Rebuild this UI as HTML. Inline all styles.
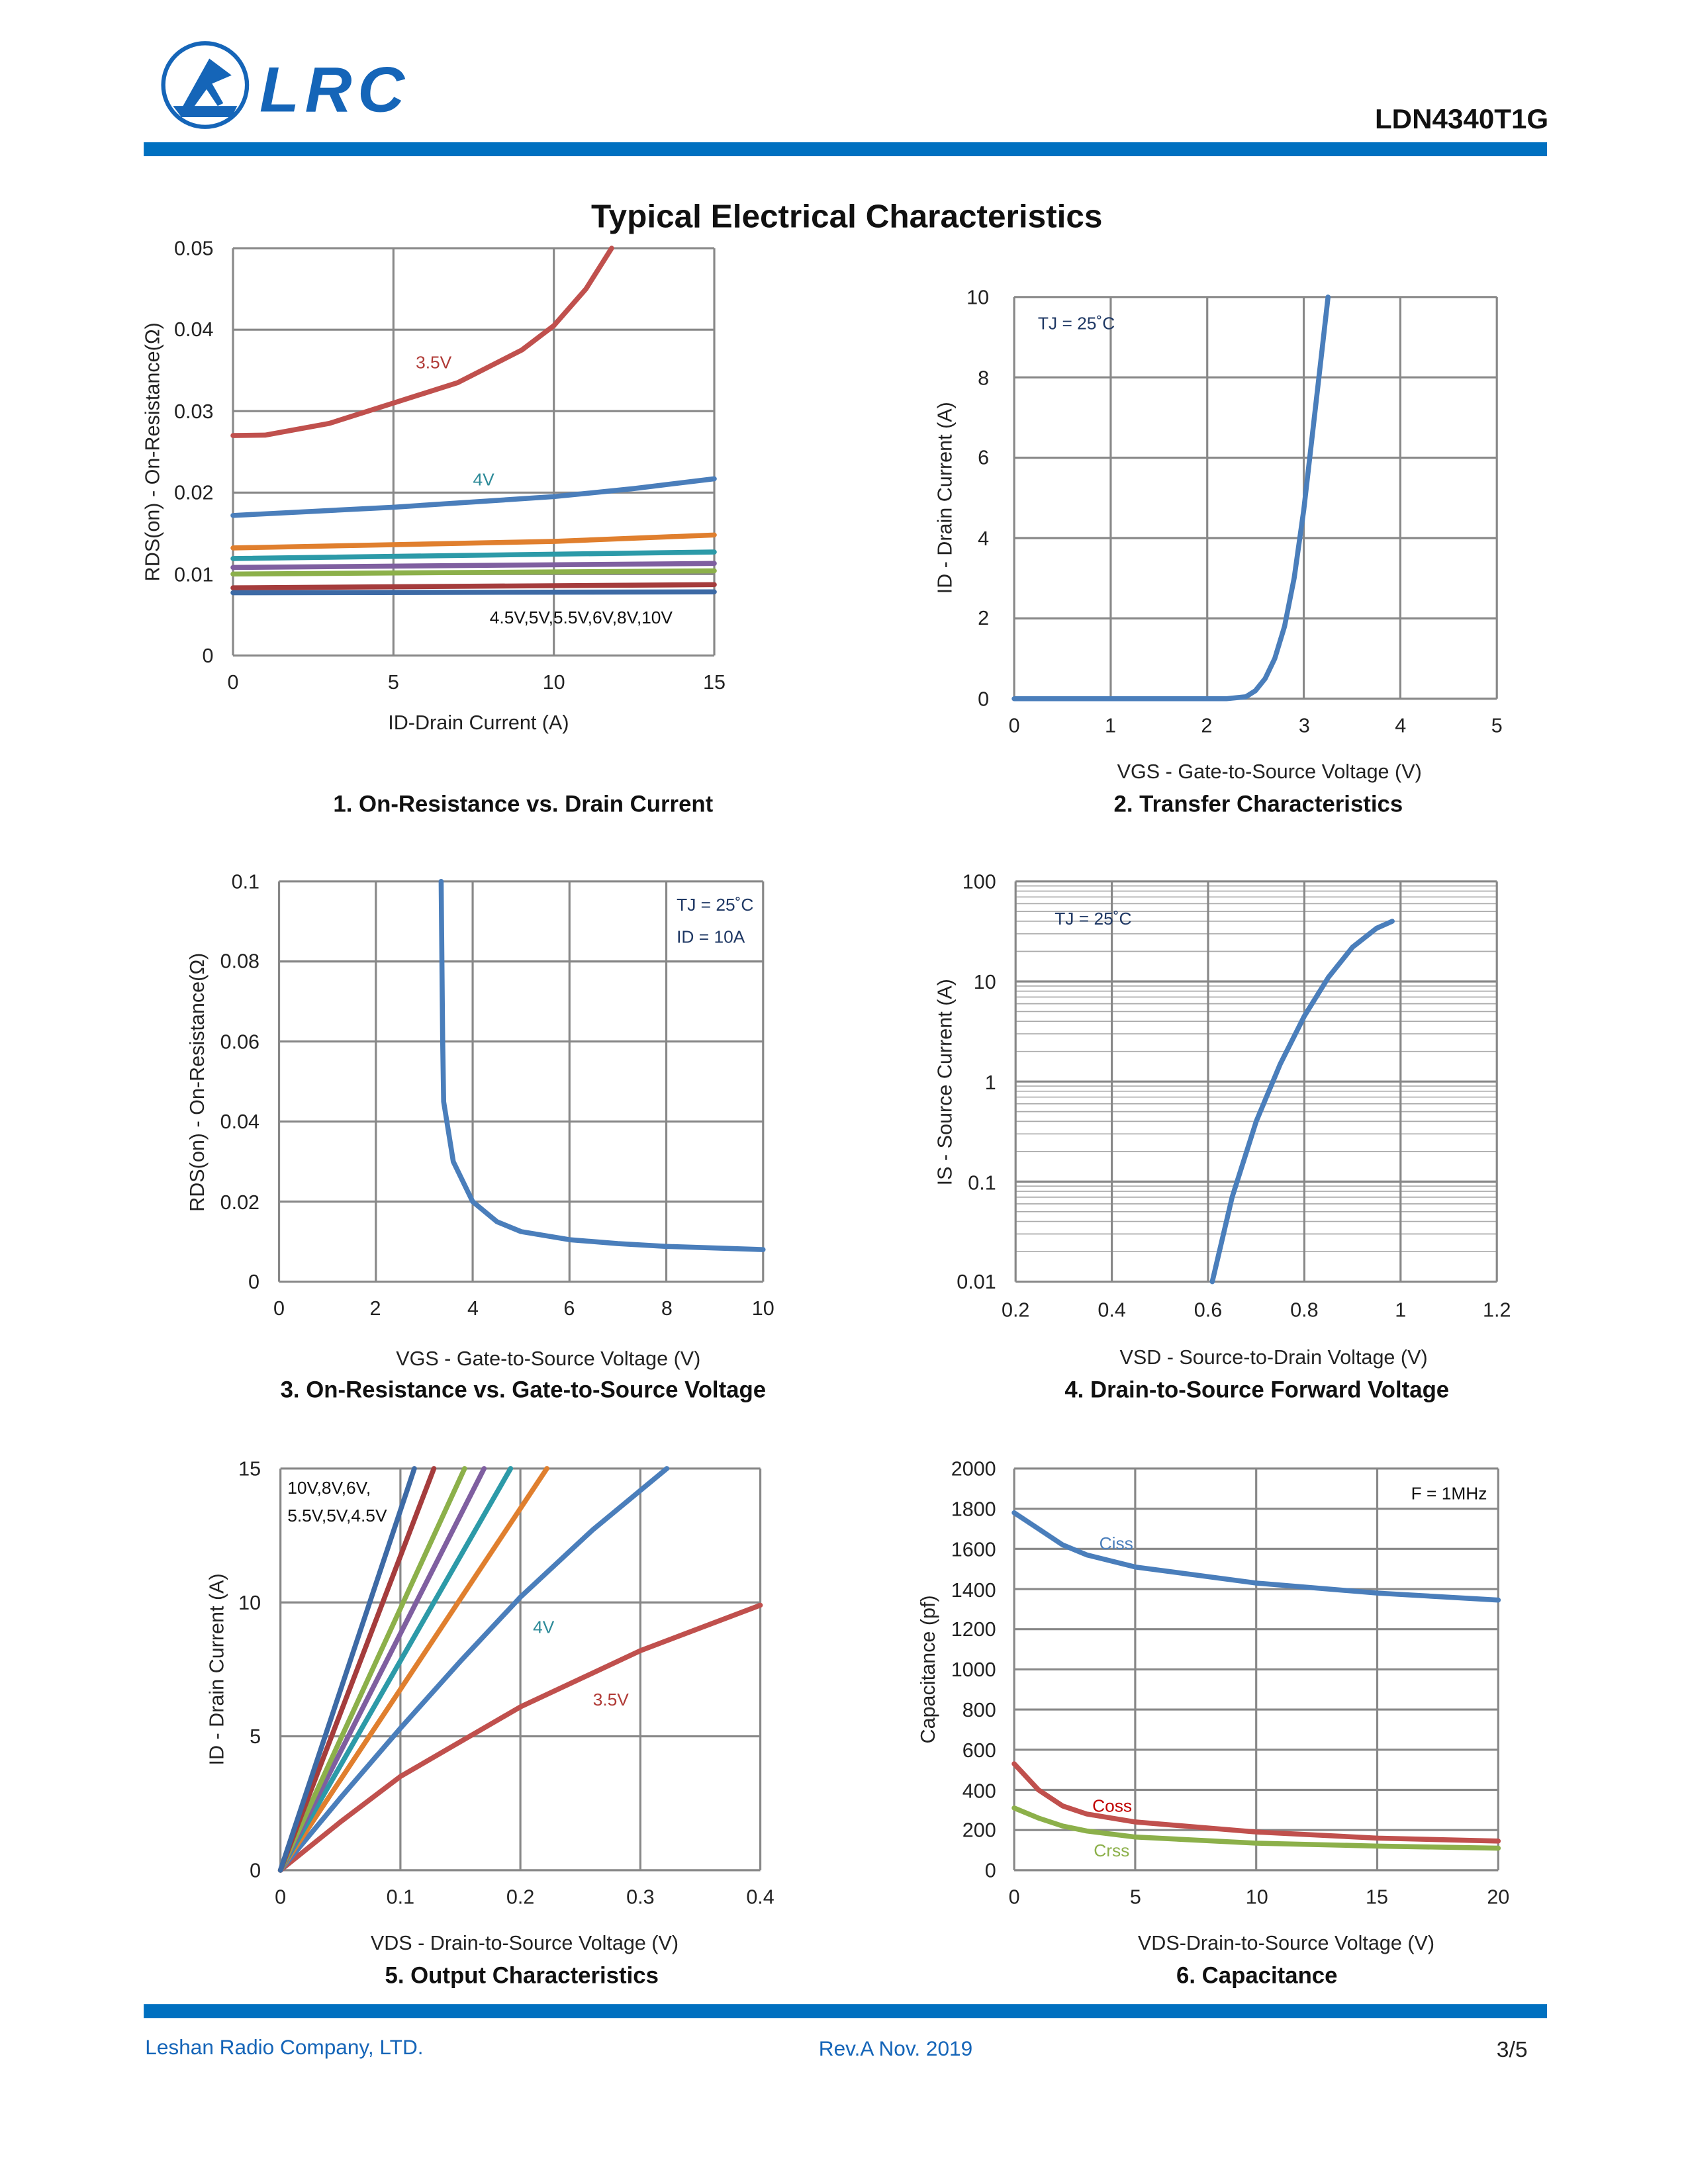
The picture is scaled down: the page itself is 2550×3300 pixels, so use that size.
<!DOCTYPE html>
<html><head><meta charset="utf-8"><style>
html,body{margin:0;padding:0;background:#fff}
svg{display:block}
text{font-family:"Liberation Sans",sans-serif}
.t{font-size:14.5px;fill:#222}
.c{font-size:16.5px;font-weight:bold;fill:#111}
.g{stroke:#888;stroke-width:1.5;fill:none}
.gm{stroke:#aaa;stroke-width:0.8;fill:none}
.s{fill:none;stroke-width:3.6;stroke-linejoin:round;stroke-linecap:round}
.a{font-size:12.5px}
</style></head><body>
<svg width="2550" height="3300" viewBox="0 0 1210 1566" xmlns="http://www.w3.org/2000/svg">
<!-- header -->
<circle cx="147" cy="61" r="30" fill="none" stroke="#1565b8" stroke-width="3"/>
<path d="M130 78 L150 42 L166 54 L152 60 L160 74 L156 76 L148 64 L138 78 Z M124 76 L170 76 L166 84 L130 84 Z" fill="#1565b8"/>
<text x="186" y="80" font-size="46" font-weight="bold" font-style="italic" fill="#1565b8" letter-spacing="4" textLength="108" lengthAdjust="spacingAndGlyphs">LRC</text>
<text x="1110" y="92" font-size="20" font-weight="bold" text-anchor="end" fill="#111">LDN4340T1G</text>
<rect x="103" y="102" width="1006" height="10" fill="#0070C0"/>
<text x="607" y="163" font-size="23.5" font-weight="bold" text-anchor="middle" fill="#111">Typical Electrical Characteristics</text>

<!-- Chart 1 -->
<g class="g">
<path d="M167 178H512M167 236.4H512M167 294.8H512M167 353.2H512M167 411.6H512M167 470H512M167 178V470M282 178V470M397 178V470M512 178V470"/>
</g>
<g class="t" text-anchor="end">
<text x="153" y="183">0.05</text><text x="153" y="241">0.04</text><text x="153" y="300">0.03</text><text x="153" y="358">0.02</text><text x="153" y="417">0.01</text><text x="153" y="475">0</text>
</g>
<g class="t" text-anchor="middle">
<text x="167" y="494">0</text><text x="282" y="494">5</text><text x="397" y="494">10</text><text x="512" y="494">15</text>
<text x="343" y="523">ID-Drain Current (A)</text>
<text transform="translate(114,324) rotate(-90)">RDS(on) - On-Resistance(Ω)</text>
</g>
<polyline class="s" stroke="#C0504D" points="167,312.3 190,312 236,303.6 282,289 328,274.4 374,251 397,233.5 420,207.2 438.4,178"/>
<polyline class="s" stroke="#4A7EBB" points="167,369.6 282,363.7 397,356.1 454.5,350.3 512,343.3"/>
<polyline class="s" stroke="#E07F2E" points="167,392.9 397,388.2 512,383.6"/>
<polyline class="s" stroke="#2C9AA8" points="167,400.5 512,395.8"/>
<polyline class="s" stroke="#7F5FA0" points="167,406.9 512,404"/>
<polyline class="s" stroke="#8CB04A" points="167,411.6 512,409.3"/>
<polyline class="s" stroke="#A53C3C" points="167,421.5 512,419.2"/>
<polyline class="s" stroke="#3D6AA5" points="167,425 512,424.4"/>
<text class="a" x="298" y="264" fill="#B03A36">3.5V</text>
<text class="a" x="339" y="348" fill="#2C8A98">4V</text>
<text class="a" x="351" y="447" fill="#111">4.5V,5V,5.5V,6V,8V,10V</text>
<text class="c" x="375" y="582" text-anchor="middle">1. On-Resistance vs. Drain Current</text>

<!-- Chart 2 -->
<g class="g">
<path d="M727 213H1073M727 270.6H1073M727 328.2H1073M727 385.8H1073M727 443.4H1073M727 501H1073M727 213V501M796.2 213V501M865.4 213V501M934.6 213V501M1003.8 213V501M1073 213V501"/>
</g>
<g class="t" text-anchor="end">
<text x="709" y="218">10</text><text x="709" y="276">8</text><text x="709" y="333">6</text><text x="709" y="391">4</text><text x="709" y="448">2</text><text x="709" y="506">0</text>
</g>
<g class="t" text-anchor="middle">
<text x="727" y="525">0</text><text x="796" y="525">1</text><text x="865" y="525">2</text><text x="935" y="525">3</text><text x="1004" y="525">4</text><text x="1073" y="525">5</text>
<text x="910" y="558">VGS - Gate-to-Source Voltage (V)</text>
<text transform="translate(682,357) rotate(-90)">ID - Drain Current (A)</text>
</g>
<polyline class="s" stroke="#4A7EBB" points="727,501 879.2,501 893.1,499.6 900,495.2 906.9,486.6 913.8,472.2 920.8,449.2 927.7,414.6 934.6,365.6 941.5,305.2 948.4,244.7 952,213"/>
<text class="a" x="744" y="236" fill="#1F3864">TJ = 25˚C</text>
<text class="c" x="902" y="582" text-anchor="middle">2. Transfer Characteristics</text>

<!-- Chart 3 -->
<g class="g">
<path d="M200 632H547M200 689.4H547M200 746.8H547M200 804.2H547M200 861.6H547M200 919H547M200 632V919M269.4 632V919M338.8 632V919M408.2 632V919M477.6 632V919M547 632V919"/>
</g>
<g class="t" text-anchor="end">
<text x="186" y="637">0.1</text><text x="186" y="694">0.08</text><text x="186" y="752">0.06</text><text x="186" y="809">0.04</text><text x="186" y="867">0.02</text><text x="186" y="924">0</text>
</g>
<g class="t" text-anchor="middle">
<text x="200" y="943">0</text><text x="269" y="943">2</text><text x="339" y="943">4</text><text x="408" y="943">6</text><text x="478" y="943">8</text><text x="547" y="943">10</text>
<text x="393" y="979">VGS - Gate-to-Source Voltage (V)</text>
<text transform="translate(146,776) rotate(-90)">RDS(on) - On-Resistance(Ω)</text>
</g>
<polyline class="s" stroke="#4A7EBB" points="316.2,632 317.3,746.8 318,789.9 324.9,832.9 338.8,861.6 356.2,876 373.5,883.1 408.2,888.9 442.9,891.7 477.6,893.7 547,896"/>
<text class="a" x="485" y="653" fill="#1F3864">TJ = 25˚C</text>
<text class="a" x="485" y="676" fill="#1F3864">ID = 10A</text>
<text class="c" x="375" y="1002" text-anchor="middle">3. On-Resistance vs. Gate-to-Source Voltage</text>

<!-- Chart 4 -->
<g class="gm">
<path d="M728 897.4H1073M728 884.8H1073M728 875.8H1073M728 868.8H1073M728 863.2H1073M728 858.4H1073M728 854.2H1073M728 850.5H1073
M728 825.65H1073M728 813.05H1073M728 804.05H1073M728 797.05H1073M728 791.45H1073M728 786.65H1073M728 782.45H1073M728 778.75H1073
M728 753.9H1073M728 741.3H1073M728 732.3H1073M728 725.3H1073M728 719.7H1073M728 714.9H1073M728 710.7H1073M728 707H1073
M728 682.15H1073M728 669.55H1073M728 660.55H1073M728 653.55H1073M728 647.95H1073M728 643.15H1073M728 638.95H1073M728 635.25H1073"/>
</g>
<g class="g">
<path d="M728 632H1073M728 703.75H1073M728 775.5H1073M728 847.25H1073M728 919H1073M728 632V919M797 632V919M866 632V919M935 632V919M1004 632V919M1073 632V919"/>
</g>
<g class="t" text-anchor="end">
<text x="714" y="637">100</text><text x="714" y="709">10</text><text x="714" y="781">1</text><text x="714" y="853">0.1</text><text x="714" y="924">0.01</text>
</g>
<g class="t" text-anchor="middle">
<text x="728" y="944">0.2</text><text x="797" y="944">0.4</text><text x="866" y="944">0.6</text><text x="935" y="944">0.8</text><text x="1004" y="944">1</text><text x="1073" y="944">1.2</text>
<text x="913" y="978">VSD - Source-to-Drain Voltage (V)</text>
<text transform="translate(682,776) rotate(-90)">IS - Source Current (A)</text>
</g>
<polyline class="s" stroke="#4A7EBB" points="869,919 883.25,858.4 900.5,804.1 917.75,762.9 935,728.6 952.25,700.8 969.5,679.2 986.75,665.6 998,660.6"/>
<text class="a" x="756" y="663" fill="#1F3864">TJ = 25˚C</text>
<text class="c" x="901" y="1002" text-anchor="middle">4. Drain-to-Source Forward Voltage</text>

<!-- Chart 5 -->
<g class="g">
<path d="M201 1053H545M201 1149H545M201 1245H545M201 1341H545M201 1053V1341M287 1053V1341M373 1053V1341M459 1053V1341M545 1053V1341"/>
</g>
<g class="t" text-anchor="end">
<text x="187" y="1058">15</text><text x="187" y="1154">10</text><text x="187" y="1250">5</text><text x="187" y="1346">0</text>
</g>
<g class="t" text-anchor="middle">
<text x="201" y="1365">0</text><text x="287" y="1365">0.1</text><text x="373" y="1365">0.2</text><text x="459" y="1365">0.3</text><text x="545" y="1365">0.4</text>
<text x="376" y="1398">VDS - Drain-to-Source Voltage (V)</text>
<text transform="translate(160,1197) rotate(-90)">ID - Drain Current (A)</text>
</g>
<polyline class="s" stroke="#C0504D" points="201,1341 244,1306.4 287,1273.8 373,1223.9 459,1183.6 545,1151"/>
<polyline class="s" stroke="#4A7EBB" points="201,1341 244,1289.2 287,1239.2 330,1191.2 373,1145.2 424.6,1097.2 478,1053"/>
<polyline class="s" stroke="#E07F2E" points="201,1341 392,1053"/>
<polyline class="s" stroke="#2C9AA8" points="201,1341 366,1053"/>
<polyline class="s" stroke="#7F5FA0" points="201,1341 347,1053"/>
<polyline class="s" stroke="#8CB04A" points="201,1341 333,1053"/>
<polyline class="s" stroke="#A53C3C" points="201,1341 311,1053"/>
<polyline class="s" stroke="#3D6AA5" points="201,1341 297,1053"/>
<text class="a" x="206" y="1071" fill="#111">10V,8V,6V,</text>
<text class="a" x="206" y="1091" fill="#111">5.5V,5V,4.5V</text>
<text class="a" x="382" y="1171" fill="#2C8A98">4V</text>
<text class="a" x="425" y="1223" fill="#B03A36">3.5V</text>
<text class="c" x="374" y="1422" text-anchor="middle">5. Output Characteristics</text>

<!-- Chart 6 -->
<g class="g">
<path d="M727 1053H1074M727 1081.8H1074M727 1110.6H1074M727 1139.4H1074M727 1168.2H1074M727 1197H1074M727 1225.8H1074M727 1254.6H1074M727 1283.4H1074M727 1312.2H1074M727 1341H1074
M727 1053V1341M813.75 1053V1341M900.5 1053V1341M987.25 1053V1341M1074 1053V1341"/>
</g>
<g class="t" text-anchor="end">
<text x="714" y="1058">2000</text><text x="714" y="1087">1800</text><text x="714" y="1116">1600</text><text x="714" y="1145">1400</text><text x="714" y="1173">1200</text><text x="714" y="1202">1000</text><text x="714" y="1231">800</text><text x="714" y="1260">600</text><text x="714" y="1289">400</text><text x="714" y="1317">200</text><text x="714" y="1346">0</text>
</g>
<g class="t" text-anchor="middle">
<text x="727" y="1365">0</text><text x="814" y="1365">5</text><text x="901" y="1365">10</text><text x="987" y="1365">15</text><text x="1074" y="1365">20</text>
<text x="922" y="1398">VDS-Drain-to-Source Voltage (V)</text>
<text transform="translate(670,1197) rotate(-90)">Capacitance (pf)</text>
</g>
<polyline class="s" stroke="#4A7EBB" points="727,1084.7 744.4,1096.2 761.7,1107.7 779,1114.9 813.8,1123.6 900.5,1135.1 987.3,1142.3 1074,1147.3"/>
<polyline class="s" stroke="#8CB04A" points="727,1296.4 744.4,1303.6 761.7,1309.3 779,1312.9 813.8,1317.2 900.5,1321.6 987.3,1323.7 1074,1325.2"/>
<polyline class="s" stroke="#C0504D" points="727,1264.7 744.4,1283.4 761.7,1294.9 779,1300.7 813.8,1306.4 900.5,1313.6 987.3,1318 1074,1320.1"/>
<text class="a" x="788" y="1111" fill="#4A7EBB">Ciss</text>
<text class="a" x="783" y="1299" fill="#C00000">Coss</text>
<text class="a" x="784" y="1331" fill="#8CB04A">Crss</text>
<text class="a" x="1066" y="1075" fill="#111" text-anchor="end">F = 1MHz</text>
<text class="c" x="901" y="1422" text-anchor="middle">6. Capacitance</text>

<!-- footer -->
<rect x="103" y="1437" width="1006" height="10" fill="#0070C0"/>
<text x="104" y="1473" font-size="15" fill="#1565b8">Leshan Radio Company, LTD.</text>
<text x="642" y="1474" font-size="15" fill="#1565b8" text-anchor="middle">Rev.A  Nov. 2019</text>
<text x="1095" y="1475" font-size="16" fill="#222" text-anchor="end">3/5</text>
</svg>
</body></html>
